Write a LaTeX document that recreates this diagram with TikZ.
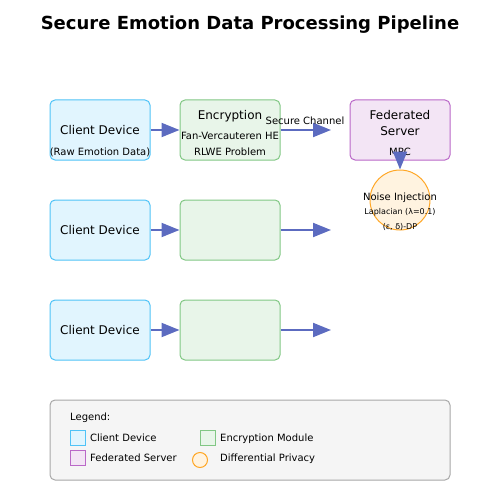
\documentclass[tikz,border=0pt]{standalone}
\usepackage{fontspec}
\setmainfont{DejaVu Sans}
\usetikzlibrary{arrows.meta}
\definecolor{clientfill}{HTML}{E1F5FE}
\definecolor{clientdraw}{HTML}{4FC3F7}
\definecolor{encfill}{HTML}{E8F5E9}
\definecolor{encdraw}{HTML}{81C784}
\definecolor{srvfill}{HTML}{F3E5F5}
\definecolor{srvdraw}{HTML}{BA68C8}
\definecolor{dpfill}{HTML}{FFF3E0}
\definecolor{dpdraw}{HTML}{FFA726}
\definecolor{arrowc}{HTML}{5C6BC0}
\definecolor{legfill}{HTML}{F5F5F5}
\definecolor{legdraw}{HTML}{A8A8A8}
\tikzset{
  box/.style={rectangle, rounded corners=5pt, minimum width=100pt, minimum height=60pt, inner sep=0pt, line width=1pt},
  clientbox/.style={box, fill=clientfill, draw=clientdraw},
  encbox/.style={box, fill=encfill, draw=encdraw},
  srvbox/.style={box, fill=srvfill, draw=srvdraw},
  dpcircle/.style={circle, minimum size=60pt, inner sep=0pt, fill=dpfill, draw=dpdraw, line width=1pt},
  flow/.style={draw=arrowc, line width=2pt, -{Triangle[length=18pt,width=14pt]}},
  lbl/.style={inner sep=0pt, anchor=base},
  big/.style={lbl, font=\fontsize{12}{14}\selectfont},
  mid/.style={lbl, font=\fontsize{10}{12}\selectfont},
  small/.style={lbl, font=\fontsize{8}{10}\selectfont},
  legtxt/.style={inner sep=0pt, anchor=base west, font=\fontsize{10}{12}\selectfont},
  legsq/.style={rectangle, minimum size=15pt, inner sep=0pt, line width=1pt},
}
\begin{document}
\begin{tikzpicture}[x=1pt,y=-1pt]
\useasboundingbox (0,0) rectangle (500,500);
\node[lbl, font=\bfseries\fontsize{18}{21}\selectfont] (title) at (250,29.5) {Secure Emotion Data Processing Pipeline};

% row 1
\node[clientbox] (c1) at (100,130) {};
\node[encbox] (e1) at (230,130) {};
\node[srvbox] (s) at (400,130) {};
\node[dpcircle] (dp) at (400,200) {};
\node[big] (c1a) at (100,134) {Client Device};
\node[mid] (c1b) at (100,155.5) {(Raw Emotion Data)};
\node[big] (e1a) at (230,120) {Encryption};
\node[mid] (e1b) at (230,139.5) {Fan-Vercauteren HE};
\node[mid] (e1c) at (230,155.5) {RLWE Problem};
\node[big] (sa) at (400,120) {Federated};
\node[big] (sb) at (400,135.5) {Server};
\node[mid] (sc) at (400,155.5) {MPC};
\node[mid] (dpa) at (400,200.5) {Noise Injection};
\node[small] (dpb) at (400,214.5) {Laplacian (λ=0.1)};
\node[small] (dpc) at (400,229.5) {(ε, δ)-DP};

% rows 2,3
\node[clientbox] (c2) at (100,230) {};
\node[encbox] (e2) at (230,230) {};
\node[big] (c2a) at (100,234) {Client Device};
\node[clientbox] (c3) at (100,330) {};
\node[encbox] (e3) at (230,330) {};
\node[big] (c3a) at (100,334) {Client Device};

\coordinate (o1) at (331,130);
\coordinate (o2) at (331,230);
\coordinate (o3) at (331,330);

\draw[flow] (c1) -- (e1);
\draw[flow] (e1) -- (o1);
\node[lbl, font=\fontsize{10}{12}\selectfont] (sec) at (305,124.5) {Secure Channel};
\draw[flow] (c2) -- (e2);
\draw[flow] (e2) -- (o2);
\draw[flow] (c3) -- (e3);
\draw[flow] (e3) -- (o3);
\draw[flow] (s.south) -- (dp.north);

% legend
\node[rectangle, rounded corners=5pt, minimum width=400pt, minimum height=80pt, inner sep=0pt, fill=legfill, draw=legdraw, line width=1pt] (leg) at (250,440) {};
\node[legtxt] (legt) at (70,420) {Legend:};
\node[legsq, fill=clientfill, draw=clientdraw] (lq1) at (77.5,437.5) {};
\node[legtxt] (lt1) at (90,441.5) {Client Device};
\node[legsq, fill=encfill, draw=encdraw] (lq2) at (207.5,437.5) {};
\node[legtxt] (lt2) at (220,441.5) {Encryption Module};
\node[legsq, fill=srvfill, draw=srvdraw] (lq3) at (77.5,457.5) {};
\node[legtxt] (lt3) at (90,461.5) {Federated Server};
\node[circle, minimum size=15pt, inner sep=0pt, fill=dpfill, draw=dpdraw, line width=1pt] (lq4) at (200,460) {};
\node[legtxt] (lt4) at (220,461.5) {Differential Privacy};
\end{tikzpicture}
\end{document}
